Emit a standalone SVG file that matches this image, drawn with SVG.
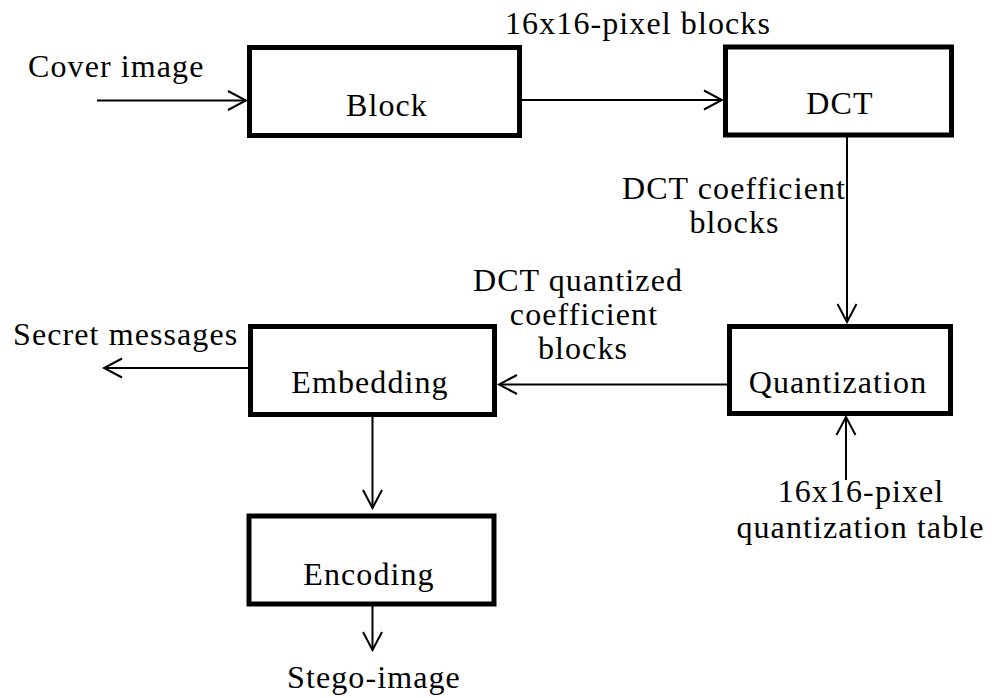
<svg xmlns="http://www.w3.org/2000/svg" width="992" height="698" viewBox="0 0 992 698">
  <style>
    .box { fill: #ffffff; stroke: #000000; stroke-width: 5; }
    .lbl { font-family: "Liberation Serif", "Times New Roman", serif; font-size: 32px; letter-spacing: 1.1px; fill: #000000; }
    .mid { text-anchor: middle; }
    .wire { fill: none; stroke: #000000; stroke-width: 2; }
  </style>
  <defs>
    <marker id="arrow" markerUnits="userSpaceOnUse" markerWidth="22" markerHeight="22" viewBox="0 0 22 22" refX="20" refY="11" orient="auto">
      <path d="M2,1.5 L20,11 L2,20.5" fill="none" stroke="#000000" stroke-width="2"/>
    </marker>
  </defs>
  <rect width="992" height="698" fill="#ffffff"/>

  <!-- process blocks -->
  <g id="block">
    <rect class="box" x="249.5" y="47.5" width="270" height="88"/>
    <text class="lbl mid" x="387" y="116">Block</text>
  </g>
  <g id="dct">
    <rect class="box" x="725.5" y="47" width="226" height="88"/>
    <text class="lbl mid" x="840" y="114">DCT</text>
  </g>
  <g id="quantization">
    <rect class="box" x="729.5" y="326.5" width="221" height="87"/>
    <text class="lbl mid" x="838" y="393">Quantization</text>
  </g>
  <g id="embedding">
    <rect class="box" x="250.5" y="326.5" width="244" height="88"/>
    <text class="lbl mid" x="370" y="392.5">Embedding</text>
  </g>
  <g id="encoding">
    <rect class="box" x="249" y="516" width="245" height="88"/>
    <text class="lbl mid" x="369" y="585">Encoding</text>
  </g>

  <!-- connectors -->
  <g id="connectors">
    <line class="wire" x1="97" y1="100.5" x2="246" y2="100.5" marker-end="url(#arrow)"/>
    <line class="wire" x1="522" y1="100" x2="722" y2="100" marker-end="url(#arrow)"/>
    <line class="wire" x1="847" y1="137" x2="847" y2="322" marker-end="url(#arrow)"/>
    <line class="wire" x1="727" y1="384.5" x2="499" y2="384.5" marker-end="url(#arrow)"/>
    <line class="wire" x1="248" y1="368" x2="104" y2="368" marker-end="url(#arrow)"/>
    <line class="wire" x1="846" y1="480" x2="846" y2="417" marker-end="url(#arrow)"/>
    <line class="wire" x1="372.5" y1="417" x2="372.5" y2="508" marker-end="url(#arrow)"/>
    <line class="wire" x1="372.5" y1="606" x2="372.5" y2="650" marker-end="url(#arrow)"/>
  </g>

  <!-- free labels -->
  <g id="labels">
    <text class="lbl" x="28" y="77">Cover image</text>
    <text class="lbl mid" x="638" y="34">16x16-pixel blocks</text>
    <text class="lbl mid" x="734" y="199">DCT coefficient</text>
    <text class="lbl mid" x="734.5" y="233">blocks</text>
    <text class="lbl mid" x="578" y="291">DCT quantized</text>
    <text class="lbl mid" x="584" y="325">coefficient</text>
    <text class="lbl mid" x="583" y="359">blocks</text>
    <text class="lbl" x="13" y="345">Secret messages</text>
    <text class="lbl mid" x="861" y="502">16x16-pixel</text>
    <text class="lbl mid" x="860.5" y="538">quantization table</text>
    <text class="lbl mid" x="374" y="688">Stego-image</text>
  </g>
</svg>
